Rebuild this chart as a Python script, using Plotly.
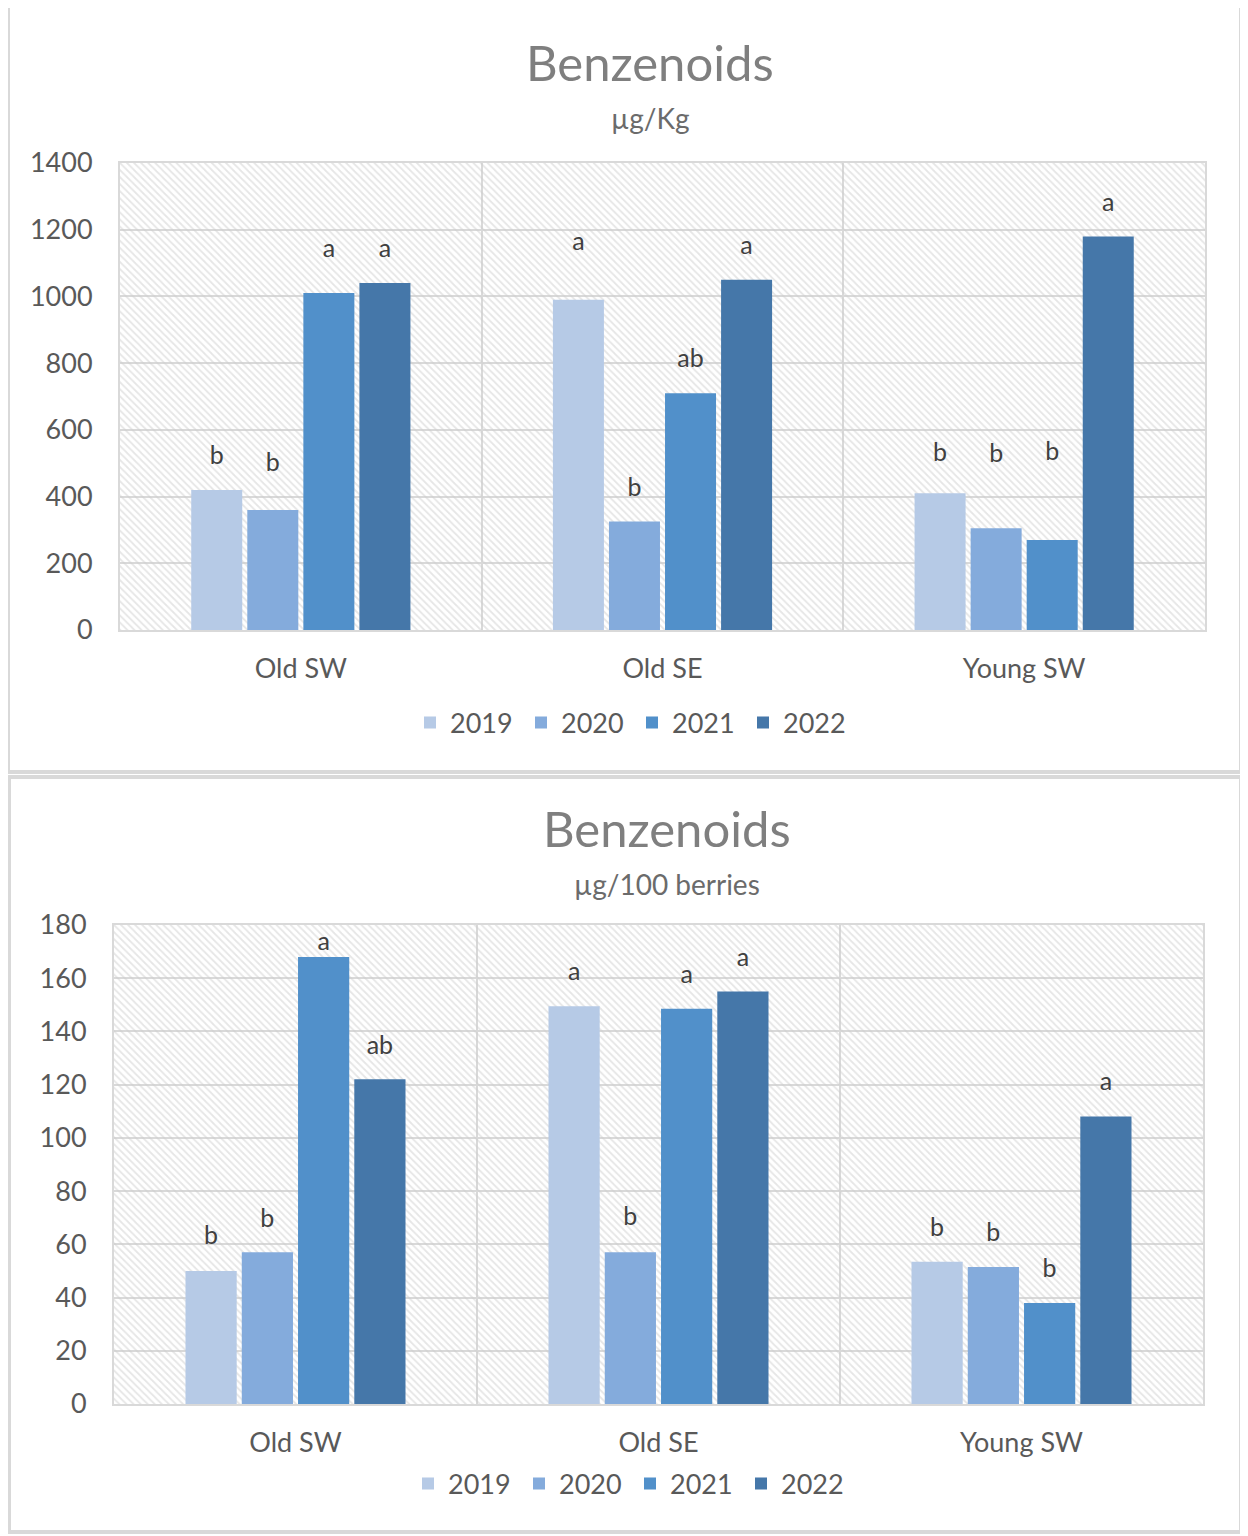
import plotly.graph_objects as go

# ---------------- data ----------------
categories = ["Old SW", "Old SE", "Young SW"]
years = ["2019", "2020", "2021", "2022"]

# µg/Kg
kg_2019 = [420, 990, 410]
kg_2020 = [360, 325, 305]
kg_2021 = [1010, 710, 270]
kg_2022 = [1040, 1050, 1180]
kg_letters_2019 = ["b", "a", "b"]
kg_letters_2020 = ["b", "b", "b"]
kg_letters_2021 = ["a", "ab", "b"]
kg_letters_2022 = ["a", "a", "a"]
kg_letter_y_2019 = [516, 1157, 525]
kg_letter_y_2020 = [495, 420, 522]
kg_letter_y_2021 = [1136, 806, 528]
kg_letter_y_2022 = [1136, 1145, 1274]

# µg/100 berries
be_2019 = [50, 149.5, 53.5]
be_2020 = [57, 57, 51.5]
be_2021 = [168, 148.5, 38]
be_2022 = [122, 155, 108]
be_letters_2019 = ["b", "a", "b"]
be_letters_2020 = ["b", "b", "b"]
be_letters_2021 = ["a", "a", "b"]
be_letters_2022 = ["ab", "a", "a"]
be_letter_y_2019 = [62.5, 161.5, 65.5]
be_letter_y_2020 = [68.9, 69.7, 63.6]
be_letter_y_2021 = [172.8, 160.4, 50.1]
be_letter_y_2022 = [134.0, 166.8, 120.5]

title_text = "Benzenoids"
sub_top = "µg/Kg"
sub_bot = "µg/100 berries"

# ---------------- style ----------------
colors = ["#b6cae6", "#84abdc", "#5190ca", "#4577a9"]
FONT = "Lato"
grid = "#d9d9d9"
OFF = 8                      # page body margin
W, H = 1248 - OFF, 1536 - OFF

def px_x(p):
    return (p - OFF) / W

def px_y(p):
    return 1 - (p - OFF) / H

fig = go.Figure()

panels = [
    dict(base=("x", "y"), data=("x2", "y2"), legend="legend",
         vals=[kg_2019, kg_2020, kg_2021, kg_2022],
         letters=[kg_letters_2019, kg_letters_2020, kg_letters_2021, kg_letters_2022],
         ly=[kg_letter_y_2019, kg_letter_y_2020, kg_letter_y_2021, kg_letter_y_2022]),
    dict(base=("x3", "y3"), data=("x4", "y4"), legend="legend2",
         vals=[be_2019, be_2020, be_2021, be_2022],
         letters=[be_letters_2019, be_letters_2020, be_letters_2021, be_letters_2022],
         ly=[be_letter_y_2019, be_letter_y_2020, be_letter_y_2021, be_letter_y_2022]),
]

for pnl in panels:
    bx, by = pnl["base"]
    dx, dy = pnl["data"]
    # hatched plot-area background
    fig.add_trace(go.Bar(
        x=[0.5], y=[1], width=[1], xaxis=bx, yaxis=by,
        marker=dict(color="rgba(0,0,0,0)", line=dict(width=0),
                    pattern=dict(shape="\\", fgcolor="#cdcdcd", bgcolor="rgba(0,0,0,0)",
                                 size=5, solidity=0.35, fillmode="overlay")),
        showlegend=False, hoverinfo="skip"))
    for i, yr in enumerate(years):
        fig.add_trace(go.Bar(
            x=categories, y=pnl["vals"][i], name=yr, xaxis=dx, yaxis=dy,
            marker=dict(color=colors[i], line=dict(width=0)),
            offsetgroup=yr, legend=pnl["legend"]))
    for i, yr in enumerate(years):
        fig.add_trace(go.Scatter(
            x=categories, y=pnl["ly"][i], text=pnl["letters"][i], mode="text",
            textposition="middle center", xaxis=dx, yaxis=dy,
            textfont=dict(family=FONT, size=25, color="#404040"),
            offsetgroup=yr, showlegend=False, hoverinfo="skip"))

tick_font = dict(family=FONT, size=27, color="#595959")

top_xdom = [px_x(120), px_x(1205)]
top_ydom = [px_y(630), px_y(163)]
bot_xdom = [px_x(114), px_x(1203)]
bot_ydom = [px_y(1404), px_y(925)]

hidden = dict(visible=False, showgrid=False, zeroline=False, fixedrange=True, automargin=False)

def cat_axis(overlay, anchor):
    return dict(overlaying=overlay, anchor=anchor, type="category",
                tickson="boundaries", showgrid=True, gridcolor=grid, gridwidth=2,
                showline=True, linecolor=grid, linewidth=2, mirror=True,
                ticks="", tickfont=tick_font, ticklabelstandoff=14, automargin=False)

def val_axis(overlay, anchor, rng, dt):
    return dict(overlaying=overlay, anchor=anchor, range=rng, dtick=dt,
                showgrid=True, gridcolor=grid, gridwidth=2, zeroline=False,
                showline=True, linecolor=grid, linewidth=2, mirror=True,
                ticks="", tickfont=tick_font, ticklabelstandoff=20, automargin=False)

leg_common = dict(orientation="h", xanchor="center", yanchor="middle",
                  font=dict(family=FONT, size=27, color="#595959"),
                  entrywidth=66, entrywidthmode="pixels", bgcolor="rgba(0,0,0,0)",
                  itemwidth=30)

fig.update_layout(
    width=W, height=H,
    margin=dict(l=0, r=0, t=0, b=0, pad=0, autoexpand=False),
    paper_bgcolor="white", plot_bgcolor="white",
    barmode="group", bargap=0.38, bargroupgap=0.09,
    scattermode="group",
    font=dict(family=FONT, color="#595959"),
    xaxis=dict(domain=top_xdom, range=[0, 1], anchor="y", **hidden),
    yaxis=dict(domain=top_ydom, range=[0, 1], anchor="x", **hidden),
    xaxis2=cat_axis("x", "y2"),
    yaxis2=val_axis("y", "x2", [0, 1400], 200),
    xaxis3=dict(domain=bot_xdom, range=[0, 1], anchor="y3", **hidden),
    yaxis3=dict(domain=bot_ydom, range=[0, 1], anchor="x3", **hidden),
    xaxis4=cat_axis("x3", "y4"),
    yaxis4=val_axis("y3", "x4", [0, 180], 20),
    legend=dict(x=px_x(632), y=px_y(723), **leg_common),
    legend2=dict(x=px_x(630), y=px_y(1484), **leg_common),
    shapes=[
        dict(type="rect", xref="paper", yref="paper",
             x0=px_x(8), x1=px_x(1241), y0=px_y(772), y1=px_y(6),
             line=dict(color=grid, width=4)),
        dict(type="rect", xref="paper", yref="paper",
             x0=px_x(9), x1=px_x(1241), y0=px_y(1532), y1=px_y(777),
             line=dict(color=grid, width=4)),
    ],
    annotations=[
        dict(text=title_text, x=px_x(650), y=px_y(62), xref="paper", yref="paper",
             showarrow=False, xanchor="center", yanchor="middle",
             font=dict(family=FONT, size=49, color="#7f7f7f")),
        dict(text=sub_top, x=px_x(650), y=px_y(118), xref="paper", yref="paper",
             showarrow=False, xanchor="center", yanchor="middle",
             font=dict(family=FONT, size=28, color="#6b6b6b")),
        dict(text=title_text, x=px_x(667), y=px_y(828), xref="paper", yref="paper",
             showarrow=False, xanchor="center", yanchor="middle",
             font=dict(family=FONT, size=49, color="#7f7f7f")),
        dict(text=sub_bot, x=px_x(667), y=px_y(884), xref="paper", yref="paper",
             showarrow=False, xanchor="center", yanchor="middle",
             font=dict(family=FONT, size=28, color="#6b6b6b")),
    ],
)

fig.write_html("out.html")
